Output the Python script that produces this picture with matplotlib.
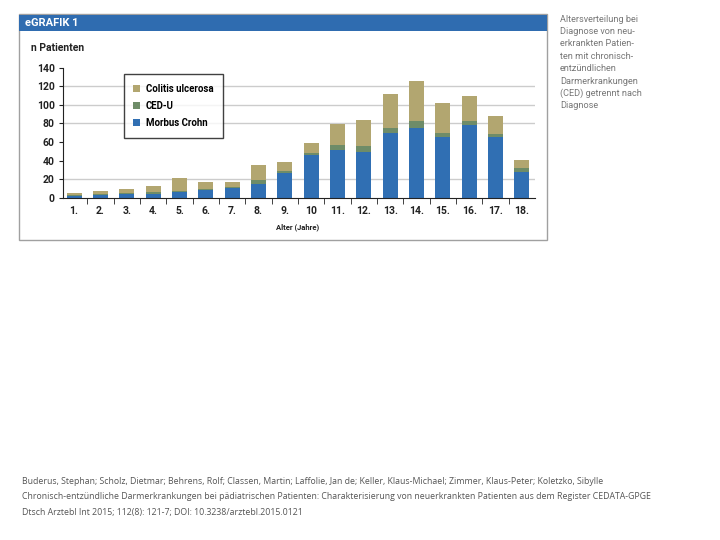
import numpy as np
import matplotlib.pyplot as plt
from matplotlib.patches import Rectangle

# Altersverteilung (Alter 1.-18. Jahr)
ages = ['1.', '2.', '3.', '4.', '5.', '6.', '7.', '8.', '9.', '10',
        '11.', '12.', '13.', '14.', '15.', '16.', '17.', '18.']
morbus_crohn = [2, 3, 4, 4, 6, 9, 11, 15, 27, 46, 51, 49, 70, 75, 65, 78, 65, 28]
ced_u = [1, 1, 1, 2, 2, 1, 1, 4, 2, 2, 6, 7, 5, 8, 5, 5, 4, 4]
colitis = [2, 3, 5, 7, 13, 7, 5, 16, 10, 11, 22, 28, 37, 43, 32, 26, 19, 9]

c_blue = '#306fb3'
c_green = '#6e8c68'
c_tan = '#b2a670'
cond = ['Liberation Sans Narrow', 'Roboto', 'DejaVu Sans']

W, H = 720, 540
fig = plt.figure(figsize=(7.2, 5.4), dpi=100)

# Rahmen und Kopfzeile
fig.patches.append(Rectangle((19 / W, 1 - 240 / H), 528 / W, 226 / H, transform=fig.transFigure,
                             facecolor='white', edgecolor='#a0a0a0', lw=1, zorder=-2))
fig.patches.append(Rectangle((19 / W, 1 - 31 / H), 528 / W, 16 / H, transform=fig.transFigure,
                             facecolor='#2f6cb0', edgecolor='none', zorder=-1))
fig.text(25 / W, 1 - 23 / H, 'eGRAFIK 1', color='white', fontsize=8, fontweight='bold',
         family=cond, va='center')
fig.text(31 / W, 1 - 48 / H, 'n Patienten', color='#222222', fontsize=7.5, fontweight='bold',
         family=cond, va='center')

ax = fig.add_axes([63.3 / W, 1 - 198 / H, (535 - 63.3) / W, (198 - 67.5) / H])
ax.patch.set_alpha(0)
x = np.arange(len(ages))
w = 0.57
b1 = ax.bar(x, morbus_crohn, w, color=c_blue, label='Morbus Crohn', zorder=2)
b2 = ax.bar(x, ced_u, w, bottom=morbus_crohn, color=c_green, label='CED-U', zorder=2)
bottom2 = np.array(morbus_crohn) + np.array(ced_u)
b3 = ax.bar(x, colitis, w, bottom=bottom2, color=c_tan, label='Colitis ulcerosa', zorder=2)

ax.set_xlim(-0.41, 17.5)
ax.set_ylim(0, 140)
ax.set_yticks(range(0, 141, 20))
for g in [20, 80, 100, 120]:
    ax.axhline(g, color='#cccccc', lw=1, zorder=1)

for s in ['top', 'right']:
    ax.spines[s].set_visible(False)
ax.spines['left'].set_color('#222222')
ax.spines['bottom'].set_color('#222222')

ax.set_xticks(x)
ax.set_xticklabels(ages)
ax.set_xticks(np.arange(0.5, 17, 1), minor=True)
ax.tick_params(axis='x', which='major', length=0, pad=6)
ax.tick_params(axis='x', which='minor', length=4, color='#222222', direction='out')
ax.tick_params(axis='y', length=3, color='#222222', pad=3)
for lab in ax.get_xticklabels() + ax.get_yticklabels():
    lab.set_family(cond)
    lab.set_fontweight('bold')
    lab.set_fontsize(7.5)
    lab.set_color('#222222')

fig.text(298 / W, 1 - 227 / H, 'Alter (Jahre)', fontsize=5.5, fontweight='bold',
         family=cond, ha='center', va='center', color='#222222')

leg = ax.legend(handles=[b3, b2, b1], loc='upper left', bbox_to_anchor=(0.128, 0.95),
                borderaxespad=0, frameon=True, fancybox=False,
                handlelength=0.75, handleheight=0.75,
                prop={'family': cond, 'weight': 'bold', 'size': 6.9},
                borderpad=1.0, labelspacing=0.75, handletextpad=0.55)
leg.get_frame().set_edgecolor('#111111')
leg.get_frame().set_linewidth(1)

side = ['Altersverteilung bei', 'Diagnose von neu-', 'erkrankten Patien-',
        'ten mit chronisch-', 'entzündlichen', 'Darmerkrankungen',
        '(CED) getrennt nach', 'Diagnose']
for i, line in enumerate(side):
    fig.text(560 / W, 1 - (19 + i * 12.4) / H, line, fontsize=6.6, family=cond,
             color='#777777', va='center')

ref = ['Buderus, Stephan; Scholz, Dietmar; Behrens, Rolf; Classen, Martin; Laffolie, Jan de; Keller, Klaus-Michael; Zimmer, Klaus-Peter; Koletzko, Sibylle',
       'Chronisch-entzündliche Darmerkrankungen bei pädiatrischen Patienten: Charakterisierung von neuerkrankten Patienten aus dem Register CEDATA-GPGE',
       'Dtsch Arztebl Int 2015; 112(8): 121-7; DOI: 10.3238/arztebl.2015.0121']
for i, line in enumerate(ref):
    fig.text(22 / W, 1 - (481 + i * 15.5) / H, line, fontsize=6.35, family=['Open Sans', 'DejaVu Sans'],
             color='#555555', va='center')

fig.savefig('out.png', dpi=100, facecolor='white')
